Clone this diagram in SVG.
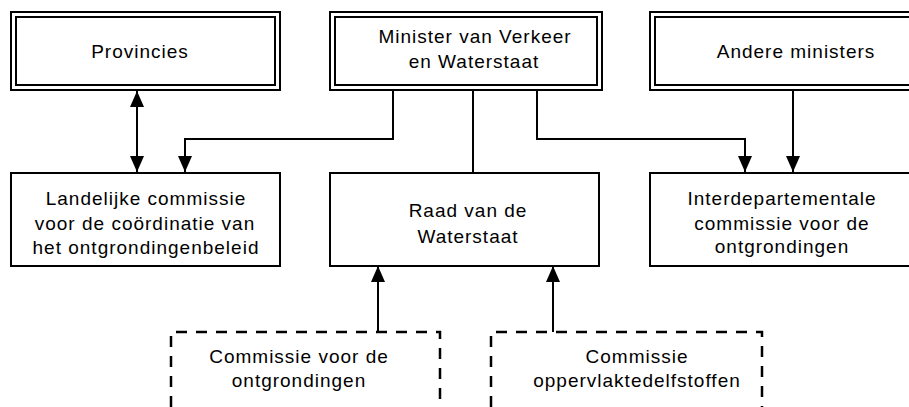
<svg xmlns="http://www.w3.org/2000/svg" width="909" height="407" viewBox="0 0 909 407">
<defs>
<style>
.box{fill:#fff;stroke:#000;stroke-width:2}
.dash{fill:none;stroke:#000;stroke-width:2.5;stroke-dasharray:11 9}
.ln{fill:none;stroke:#000;stroke-width:2}
text{font-family:"Liberation Sans",Arial,sans-serif;font-size:19px;letter-spacing:1px;fill:#000;text-anchor:middle}
</style>
<marker id="ah" viewBox="0 0 16 14" refX="16" refY="7" markerWidth="16" markerHeight="14" markerUnits="userSpaceOnUse" orient="auto-start-reverse">
<path d="M0,0 L16,7 L0,14 Z" fill="#000"/>
</marker>
</defs>
<g id="connectors">
<path class="ln" d="M393,90 V139 H185 V172" marker-end="url(#ah)"/>
<path class="ln" d="M473,90 V173"/>
<path class="ln" d="M537,90 V139 H745 V172" marker-end="url(#ah)"/>
<path class="ln" d="M793,90 V172" marker-end="url(#ah)"/>
<path class="ln" d="M137,91 V172" marker-start="url(#ah)" marker-end="url(#ah)"/>
<path class="ln" d="M378,332 V266" marker-end="url(#ah)"/>
<path class="ln" d="M553,332 V266" marker-end="url(#ah)"/>
</g>
<g id="provincies">
<rect class="box" x="11" y="12" width="269" height="78"/>
<rect class="box" x="16" y="17" width="259" height="68"/>
<text x="140" y="58">Provincies</text>
</g>
<g id="minister">
<rect class="box" x="330" y="12" width="272" height="78"/>
<rect class="box" x="335" y="17" width="262" height="68"/>
<text x="475" y="43">Minister van Verkeer</text>
<text x="474" y="68">en Waterstaat</text>
</g>
<g id="andere">
<rect class="box" x="650" y="12" width="290" height="78"/>
<rect class="box" x="655" y="17" width="280" height="68"/>
<text x="796" y="58">Andere ministers</text>
</g>
<g id="landelijke">
<rect class="box" x="11" y="173" width="269" height="93"/>
<text x="146" y="205">Landelijke commissie</text>
<text x="145" y="230">voor de coördinatie van</text>
<text x="146" y="254">het ontgrondingenbeleid</text>
</g>
<g id="raad">
<rect class="box" x="330" y="173" width="269" height="93"/>
<text x="468" y="217">Raad van de</text>
<text x="468" y="243">Waterstaat</text>
</g>
<g id="interdepartementale">
<rect class="box" x="650" y="173" width="265" height="93"/>
<text x="782" y="205">Interdepartementale</text>
<text x="782" y="230">commissie voor de</text>
<text x="782" y="253">ontgrondingen</text>
</g>
<g id="commissie-ontgrondingen">
<path class="dash" d="M171,407 V332 H440 V407"/>
<text x="299" y="363">Commissie voor de</text>
<text x="299" y="387">ontgrondingen</text>
</g>
<g id="commissie-oppervlakte">
<path class="dash" d="M491,407 V332 H762 V407"/>
<text x="637" y="363">Commissie</text>
<text x="637" y="387">oppervlaktedelfstoffen</text>
</g>
</svg>
